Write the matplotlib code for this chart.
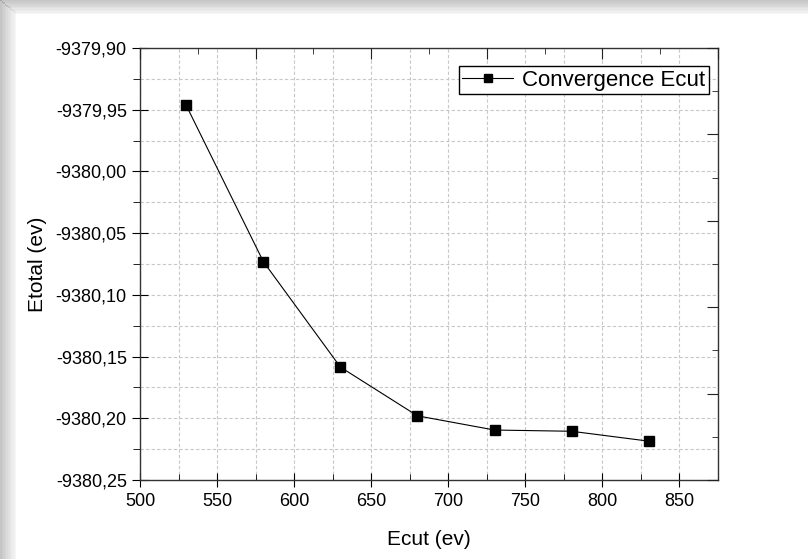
import matplotlib.pyplot as plt
from matplotlib.patches import Rectangle
from matplotlib.ticker import MultipleLocator, FuncFormatter, NullFormatter

# data
ecut = [530, 580, 630, 680, 730, 780, 830]
etotal = [-9379.9465, -9380.0730, -9380.1585, -9380.1980, -9380.2095,
          -9380.2105, -9380.2185]

plt.rcParams['font.family'] = ['Liberation Sans', 'DejaVu Sans']

fig = plt.figure(figsize=(8.08, 5.59), dpi=100)
fig.patch.set_facecolor('white')

# gray screenshot frame on the left and top
for i in range(10):
    a = 0.45 - i * 0.042
    fig.add_artist(Rectangle((i * 0.002, 0), 0.002, 1 - i * 0.0022,
                             transform=fig.transFigure, color='gray', alpha=a, lw=0))
    fig.add_artist(Rectangle((i * 0.002, 1 - (i + 1) * 0.0025), 1, 0.0025,
                             transform=fig.transFigure, color='gray', alpha=a, lw=0))

pos = [0.1733, 0.1413, 0.7153, 0.7727]
ax = fig.add_axes(pos)

ax.plot(ecut, etotal, color='black', lw=0.8, marker='s', markersize=7.5,
        label='Convergence Ecut')

ax.set_xlim(500, 875)
ax.set_ylim(-9380.25, -9379.90)
ax.xaxis.set_major_locator(MultipleLocator(50))
ax.xaxis.set_minor_locator(MultipleLocator(25))
ax.yaxis.set_major_locator(MultipleLocator(0.05))
ax.yaxis.set_minor_locator(MultipleLocator(0.025))
ax.yaxis.set_major_formatter(FuncFormatter(lambda v, p: f'{v:.2f}'.replace('.', ',')))

ax.grid(True, which='both', color='#c8c8c8', ls=(0, (3, 2)), lw=0.8)
ax.set_axisbelow(True)

ax.tick_params(axis='x', which='major', direction='inout', length=10, labelsize=13, pad=4)
ax.tick_params(axis='x', which='minor', direction='in', length=4)
ax.tick_params(axis='y', which='major', direction='inout', length=12, labelsize=13)
ax.tick_params(axis='y', which='minor', direction='out', length=5)
for s in ax.spines.values():
    s.set_linewidth(1.0)
    s.set_color('#333333')

# top / right axes of the original use their own 0..1 scale
ax2 = fig.add_axes(pos, frameon=False)
ax2.patch.set_visible(False)
ax2.set_xlim(0, 1)
ax2.set_ylim(0, 1)
for axis in (ax2.xaxis, ax2.yaxis):
    axis.set_major_locator(MultipleLocator(0.2))
    axis.set_minor_locator(MultipleLocator(0.1))
    axis.set_major_formatter(NullFormatter())
ax2.tick_params(which='both', direction='in', bottom=False, left=False,
                top=True, right=True, labelbottom=False, labelleft=False,
                color='#222222')
ax2.tick_params(which='major', length=8)
ax2.tick_params(which='minor', length=4)

ax.set_xlabel('Ecut (ev)', fontsize=15, labelpad=15)
ax.set_ylabel('Etotal (ev)', fontsize=15, labelpad=6)

leg = ax.legend(loc='upper right', fontsize=16, frameon=True, fancybox=False,
                edgecolor='black', framealpha=1, handlelength=2.3, handletextpad=0.4,
                markerscale=0.75, borderpad=0.15, borderaxespad=0,
                bbox_to_anchor=(0.984, 0.958))
leg.get_frame().set_linewidth(1.0)

fig.savefig('out.png', dpi=100)
